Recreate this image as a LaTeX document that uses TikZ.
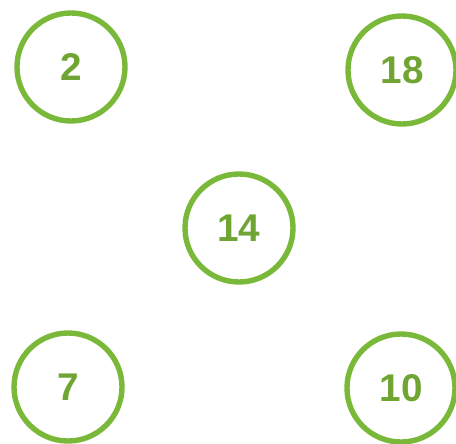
\documentclass[tikz,border=0pt]{standalone}
\usepackage{fontspec}
\setsansfont{Liberation Sans}
\usepackage{xcolor}
\usetikzlibrary{positioning,calc}
\definecolor{ringgreen}{RGB}{122,184,58}
\definecolor{numgreen}{RGB}{112,165,52}

\begin{document}
\begin{tikzpicture}[x=0.03cm,y=-0.03cm,
    num/.style={circle,draw=ringgreen,line width=4.6pt,minimum size=3.24cm,inner sep=0pt,
      text=numgreen,font=\sffamily\bfseries\fontsize{33}{33}\selectfont}]
  \useasboundingbox (0,0) rectangle (456,443);
  \node[num] (two) at (71,67) {2};
  \node[num] (eighteen) at (402,70) {18};
  \node[num] (fourteen) at (239,228) {14};
  \node[num] (seven) at (68,387) {7};
  \node[num] (ten) at (401,388) {10};
\end{tikzpicture}
\end{document}
